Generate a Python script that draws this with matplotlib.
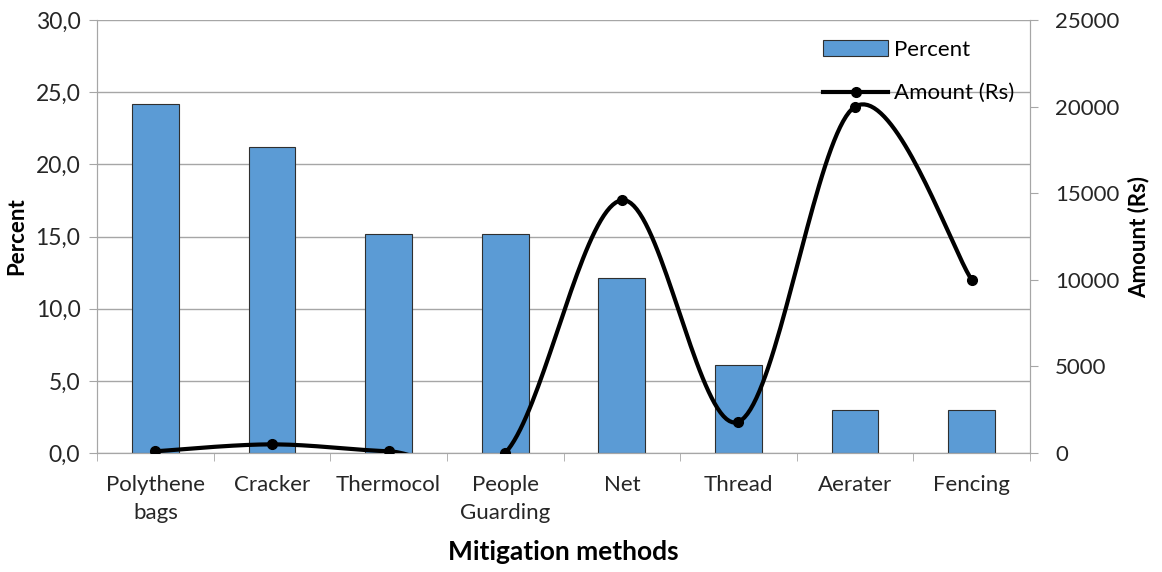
import matplotlib.pyplot as plt
import numpy as np
from matplotlib.ticker import FuncFormatter

plt.rcParams['font.family'] = ['Lato', 'DejaVu Sans']

methods = ['Polythene\nbags', 'Cracker', 'Thermocol', 'People\nGuarding',
           'Net', 'Thread', 'Aerater', 'Fencing']
percent = [24.2, 21.2, 15.2, 15.2, 12.1, 6.1, 3.0, 3.0]
amount = [100, 500, 100, 0, 14600, 1800, 20000, 10000]

bar_color = '#5B9BD5'
grid_color = '#A6A6A6'


def smooth(x, y, n=40):
    # catmull-rom spline, roughly what excel does for "smoothed line"
    x = np.asarray(x, float)
    y = np.asarray(y, float)
    px = np.concatenate([[x[0]], x, [x[-1]]])
    py = np.concatenate([[y[0]], y, [y[-1]]])
    xs, ys = [], []
    t = np.linspace(0, 1, n)
    for i in range(1, len(px) - 2):
        mx0 = (px[i + 1] - px[i - 1]) / 2
        mx1 = (px[i + 2] - px[i]) / 2
        my0 = (py[i + 1] - py[i - 1]) / 2
        my1 = (py[i + 2] - py[i]) / 2
        h00 = 2 * t**3 - 3 * t**2 + 1
        h10 = t**3 - 2 * t**2 + t
        h01 = -2 * t**3 + 3 * t**2
        h11 = t**3 - t**2
        xs.append(h00 * px[i] + h10 * mx0 + h01 * px[i + 1] + h11 * mx1)
        ys.append(h00 * py[i] + h10 * my0 + h01 * py[i + 1] + h11 * my1)
    return np.concatenate(xs), np.concatenate(ys)


fig = plt.figure(figsize=(11.62, 5.72), dpi=100)
ax = fig.add_axes([0.0835, 0.208, 0.8029, 0.757])
ax2 = ax.twinx()

x = np.arange(len(methods))
ax.bar(x, percent, width=0.4, color=bar_color, edgecolor='#2F2F2F',
       linewidth=0.8, label='Percent', zorder=2)

ax.set_xlim(-0.5, len(methods) - 0.5)
ax.set_ylim(0, 30)
ax.set_yticks(np.arange(0, 31, 5))
ax.yaxis.set_major_formatter(FuncFormatter(lambda v, p: f'{v:.1f}'.replace('.', ',')))
ax.grid(axis='y', color=grid_color, linewidth=1, zorder=0)
ax.set_axisbelow(True)

ax.set_xticks(x)
ax.set_xticklabels(methods, fontsize=16, color='#262626', linespacing=1.5)
ax.set_xticks(np.arange(-0.5, len(methods)), minor=True)
ax.tick_params(axis='x', which='major', length=0, pad=16)
ax.tick_params(axis='x', which='minor', length=6, color=grid_color)
ax.tick_params(axis='y', labelsize=16.5, length=6, color=grid_color,
               labelcolor='#262626', pad=6)

sx, sy = smooth(x, amount)
ax2.plot(sx, sy, color='black', linewidth=3, zorder=3)
ax2.plot(x, amount, 'o', color='black', markersize=7, zorder=4)
line_handle, = ax2.plot([], [], color='black', linewidth=3, marker='o', markersize=7)
ax2.set_ylim(0, 25000)
ax2.set_yticks(np.arange(0, 25001, 5000))
ax2.tick_params(axis='y', labelsize=16, length=6, color=grid_color,
                labelcolor='#262626', pad=12)

for a in (ax, ax2):
    a.spines['top'].set_visible(False)
    for s in ('left', 'right', 'bottom'):
        a.spines[s].set_color(grid_color)

ax.set_ylabel('Percent', fontsize=16, fontweight='bold', labelpad=6)
ax2.set_ylabel('Amount (Rs)', fontsize=16, fontweight='bold', labelpad=6)
ax.set_xlabel('Mitigation methods', fontsize=19, fontweight='bold', labelpad=12)

bars_handle = ax.containers[0]
ax2.legend([bars_handle, line_handle], ['Percent', 'Amount (Rs)'],
           loc='upper right', bbox_to_anchor=(1.005, 1.0), frameon=False,
           fontsize=16, labelspacing=1.05, handlelength=2.9, handletextpad=0.3)

fig.savefig('out.png', dpi=100)
